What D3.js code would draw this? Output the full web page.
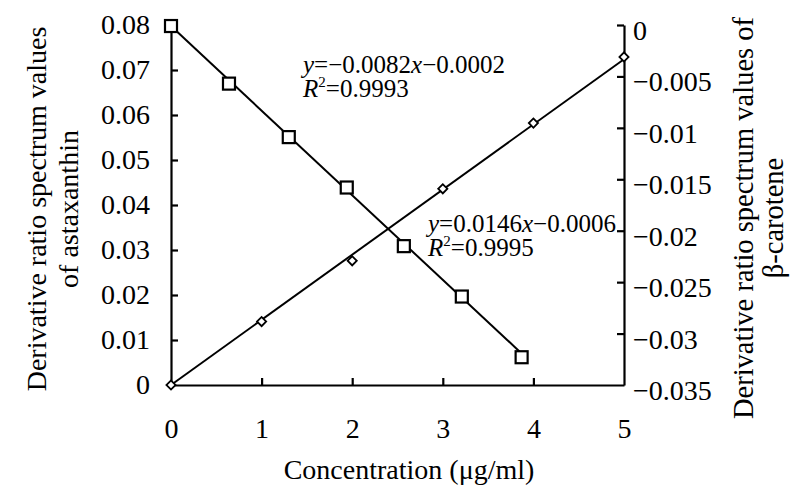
<!DOCTYPE html>
<html><head><meta charset="utf-8">
<script src="https://cdn.jsdelivr.net/npm/d3@7"></script>
<style>
body{margin:0;background:#fff;}
</style></head>
<body><svg id="c" width="800" height="492"></svg>
<script>
// Astaxanthin (diamonds, left axis)
const astaX = [0, 1, 2, 3, 4, 5];
const astaY = [0, 0.0141, 0.0276, 0.0436, 0.0582, 0.0729];
// beta-carotene (squares, right axis)
const betaX = [0, 0.64, 1.30, 1.94, 2.57, 3.21, 3.87];
const betaY = [-0.0001, -0.0057, -0.0109, -0.0158, -0.0215, -0.0264, -0.0323];
const xTicks = [0, 1, 2, 3, 4, 5];
const leftTicks = [0, 0.01, 0.02, 0.03, 0.04, 0.05, 0.06, 0.07, 0.08];
const rightTicks = [0, -0.005, -0.01, -0.015, -0.02, -0.025, -0.03, -0.035];
const astaFit = {slope: 0.0146, intercept: -0.0006, label: "0.0146", int: "0.0006", r2: "0.9995"};
const betaFit = {slope: -0.0082, intercept: -0.0002, label: "\u22120.0082", int: "0.0002", r2: "0.9993"};

const FONT = "'Liberation Serif','Times New Roman',serif";
const svg = d3.select("#c");
const L = 171, R = 624, T = 25, B = 385;
const x = d3.scaleLinear().domain([0, 5]).range([L, R]);
const yL = d3.scaleLinear().domain([0, 0.08]).range([B, T]);
const yR = d3.scaleLinear().domain([-0.035, 0]).range([B, T]);
const fmt = v => v === 0 ? "0" : (v < 0 ? "\u2212" : "") + String(Math.abs(v));

// axes
const gx = svg.append("g").attr("transform", `translate(0,${B})`)
  .call(d3.axisBottom(x).tickValues(xTicks).tickSizeInner(-7).tickSizeOuter(0).tickPadding(33).tickFormat(fmt));
const gl = svg.append("g").attr("transform", `translate(${L},0)`)
  .call(d3.axisLeft(yL).tickValues(leftTicks).tickSizeInner(-7).tickSizeOuter(0).tickPadding(21).tickFormat(fmt));
const gr = svg.append("g").attr("transform", `translate(${R},0)`)
  .call(d3.axisRight(yR).tickValues(rightTicks).tickSizeInner(-7).tickSizeOuter(0).tickPadding(9).tickFormat(fmt));
[gx, gl, gr].forEach(g => {
  g.attr("font-family", null).attr("font-size", null);
  g.select(".domain").attr("stroke", "#000").attr("stroke-width", 2.2);
  g.selectAll(".tick line").attr("stroke", "#000").attr("stroke-width", 2.2);
  g.selectAll(".tick text").style("font-family", FONT).style("font-size", "28px").attr("fill", "#000");
});
gr.selectAll(".tick text").attr("dy", "0.52em");
gx.selectAll(".tick").filter(d => d === 0 || d === 5).select("line").remove();
gl.selectAll(".tick").filter(d => d === 0).select("line").remove();
gr.selectAll(".tick").filter(d => d === -0.035).select("line").remove();

// fit lines
const lineL = d3.line().x(d => x(d[0])).y(d => yL(d[1]));
const lineR = d3.line().x(d => x(d[0])).y(d => yR(d[1]));
const ax0 = astaX[0], ax1 = astaX[astaX.length - 1];
svg.append("path").attr("d", lineL([[ax0, astaY[0]], [ax1, astaFit.slope * ax1 + astaFit.intercept]]))
  .attr("stroke", "#000").attr("stroke-width", 2).attr("fill", "none");
const bx0 = betaX[0], bx1 = betaX[betaX.length - 1];
svg.append("path").attr("d", lineR([[bx0, betaY[0]], [bx1, betaFit.slope * bx1 + betaFit.intercept]]))
  .attr("stroke", "#000").attr("stroke-width", 2).attr("fill", "none");

// markers
svg.selectAll(".dia").data(astaX.map((v, i) => [v, astaY[i]])).enter().append("path")
  .attr("d", d3.symbol().type(d3.symbolSquare).size(42))
  .attr("transform", d => `translate(${x(d[0])},${yL(d[1])}) rotate(45)`)
  .attr("fill", "#fff").attr("stroke", "#000").attr("stroke-width", 1.8);
svg.selectAll(".sq").data(betaX.map((v, i) => [v, betaY[i]])).enter().append("rect")
  .attr("x", d => x(d[0]) - 6).attr("y", d => yR(d[1]) - 6)
  .attr("width", 12).attr("height", 12)
  .attr("fill", "#fff").attr("stroke", "#000").attr("stroke-width", 2.2);

// equations
function eq(xp, yp, f) {
  const t = svg.append("text").attr("x", xp).attr("y", yp).style("font-family", FONT).style("font-size", "25px");
  t.append("tspan").attr("font-style", "italic").text("y");
  t.append("tspan").text("=" + f.label);
  t.append("tspan").attr("font-style", "italic").text("x");
  t.append("tspan").text("\u2212" + f.int);
  const t2 = svg.append("text").attr("x", xp).attr("y", yp + 24).style("font-family", FONT).style("font-size", "25px");
  t2.append("tspan").attr("font-style", "italic").text("R");
  t2.append("tspan").style("font-size", "15px").attr("dy", -10).text("2");
  t2.append("tspan").attr("dy", 10).text("=" + f.r2);
}
eq(303, 73, betaFit);
eq(428, 232, astaFit);

// axis titles
svg.append("text").attr("x", 409).attr("y", 479).attr("text-anchor", "middle")
  .style("font-family", FONT).style("font-size", "28px")
  .text("Concentration (\u03bcg/ml)");
const lt = svg.append("text").attr("transform", "translate(46,209) rotate(-90)").attr("text-anchor", "middle")
  .style("font-family", FONT).style("font-size", "28px");
lt.append("tspan").attr("x", 0).attr("dy", 0).text("Derivative ratio spectrum values");
lt.append("tspan").attr("x", 0).attr("dy", 32).text("of astaxanthin");
const rt = svg.append("text").attr("transform", "translate(753,218) rotate(-90)").attr("text-anchor", "middle")
  .style("font-family", FONT).style("font-size", "28.5px");
rt.append("tspan").attr("x", 0).attr("dy", 0).text("Derivative ratio spectrum values of");
rt.append("tspan").attr("x", 0).attr("dy", 30).text("\u03b2-carotene");
</script></body></html>
